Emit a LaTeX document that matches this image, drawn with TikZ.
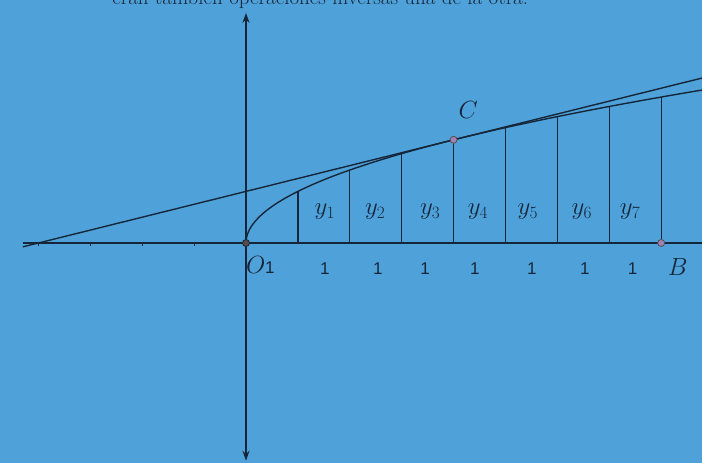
\documentclass[tikz,border=0pt]{standalone}
\usepackage{fontspec}
\newfontfamily\arialfont{Liberation Sans}
\usetikzlibrary{arrows.meta}
\definecolor{bg}{HTML}{4FA2D9}
\definecolor{ink}{HTML}{16263A}
\definecolor{ptpurple}{HTML}{9C84B8}
\definecolor{ptdark}{HTML}{5A4A48}
\tikzset{
  curveline/.style={ink, line width=1.4pt},
  axisline/.style={ink, line width=1.9pt},
  ordline/.style={ink, line width=1.2pt},
  ylab/.style={font=\fontsize{26}{30}\selectfont, text=ink, inner sep=0pt},
  onelab/.style={font=\arialfont\fontsize{17}{20}\selectfont, text=ink, inner sep=0pt},
  ptlab/.style={font=\fontsize{25}{29}\selectfont, text=ink, inner sep=0pt},
  dotpurple/.style={circle, fill=ptpurple, draw=ptdark, line width=0.8pt, inner sep=0pt, minimum size=7pt},
  dotdark/.style={circle, fill=ptdark, draw=ink, line width=0.8pt, inner sep=0pt, minimum size=7pt},
}
\begin{document}
\begin{tikzpicture}[x=51.9pt, y=51.6pt]
  % frame: 702 x 463 px, origin O1 at (246,243) px
  \fill[bg] (-4.7399,-4.2636) rectangle (8.7861,4.7093);
  \useasboundingbox (-4.7399,-4.2636) rectangle (8.7861,4.7093);
  \clip (-4.7399,-4.2636) rectangle (8.7861,4.7093);
  % cut-off heading text
  \node[anchor=base west, inner sep=0pt, text=ink, font=\fontsize{21}{24}\selectfont]
    (head) at (-2.58,4.63) {eran también operaciones inversas una de la otra.};
  % axes
  \coordinate (xl) at (-4.30,0);
  \coordinate (xr) at (8.80,0);
  \coordinate (yt) at (0,4.46);
  \coordinate (yb) at (0,-4.22);
  \draw[axisline] (xl) -- (xr);
  \draw[axisline, {Stealth[length=10pt,width=7pt]}-{Stealth[length=10pt,width=7pt]}] (yb) -- (yt);
  % ticks on negative side
  \foreach \k in {1,2,3,4} {
    \draw[ink, line width=1pt] (-\k,0) -- (-\k,-0.06);
  }
  % tangent line at C
  \coordinate (tl) at (-4.30,-0.075);
  \coordinate (tr) at (8.80,3.20);
  \draw[curveline] (tl) -- (tr);
  % curve y = sqrt(x)
  \draw[curveline] plot[domain=0:2.97, samples=80, smooth, variable=\t] ({\t*\t},{\t});
  % ordinates
  \foreach \k in {1,...,8} {
    \draw[ordline] (\k,0) -- (\k,{sqrt(\k)});
  }
  % y labels
  \foreach \k/\xx in {1/1.52,2/2.49,3/3.55,4/4.47,5/5.43,6/6.47,7/7.40} {
    \node[ylab] (y\k) at (\xx,0.60) {$y_{\k}$};
  }
  % unit labels
  \foreach \k/\xx in {1/1.52,2/2.54,3/3.45,4/4.41,5/5.51,6/6.53,7/7.45} {
    \node[onelab] (u\k) at (\xx,-0.50) {1};
  }
  % points
  \node[dotdark] (O) at (0,0) {};
  \node[dotpurple] (C) at (4,2) {};
  \node[dotpurple] (B) at (8,0) {};
  \node[ptlab] (Olab) at (0.19,-0.43) {$O$};
  \node[onelab] (Olab1) at (0.46,-0.47) {1};
  \node[ptlab] (Clab) at (4.28,2.58) {$C$};
  \node[ptlab] (Blab) at (8.32,-0.46) {$B$};
\end{tikzpicture}
\end{document}
